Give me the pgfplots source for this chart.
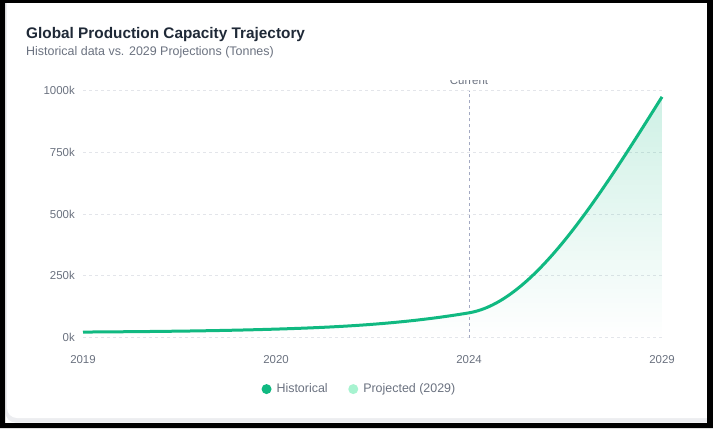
\documentclass[border=0pt]{standalone}
\usepackage{fontspec}
\setmainfont{Liberation Sans}
\usepackage{pgfplots}
\pgfplotsset{compat=1.18}
\usetikzlibrary{fadings}

\definecolor{emerald}{HTML}{10B981}
\definecolor{mint}{HTML}{A7F3D0}
\definecolor{titlecol}{HTML}{1F2937}
\definecolor{subcol}{HTML}{6B7280}
\definecolor{gridcol}{HTML}{E3E5EA}
\definecolor{refcol}{HTML}{A3A9C2}
\definecolor{cardedge}{HTML}{ECEDF0}

% monotone-x cubic plot handler (same curve as the web chart draws)
\makeatletter
\newcount\mono@n
\newcount\mono@i
\newcount\mono@j
\newcount\mono@k
\def\mono@X#1{\csname mono@x\number#1\endcsname}
\def\mono@Y#1{\csname mono@y\number#1\endcsname}
\def\mono@S#1{\csname mono@s\number#1\endcsname}
\def\mono@T#1{\csname mono@t\number#1\endcsname}
\def\pgfplothandlermonotone{%
  \def\pgf@plotstreamstart{%
    \global\mono@n=0\relax
    \global\let\pgf@plotstreampoint=\mono@collect
    \global\let\pgf@plotstreamspecial=\pgfutil@gobble
    \global\let\pgf@plotstreamend=\mono@finish
  }%
}
\def\mono@collect#1{%
  \pgf@process{#1}%
  \global\advance\mono@n by 1\relax
  \expandafter\xdef\csname mono@x\the\mono@n\endcsname{\pgf@sys@tonumber\pgf@x}%
  \expandafter\xdef\csname mono@y\the\mono@n\endcsname{\pgf@sys@tonumber\pgf@y}%
}
\def\mono@finish{%
  \pgf@plot@first@action{\pgfqpoint{\mono@X{1}pt}{\mono@Y{1}pt}}%
  \ifnum\mono@n>2 \mono@curve\else\ifnum\mono@n=2 \mono@line\fi\fi
}
\def\mono@line{\pgfpathlineto{\pgfqpoint{\mono@X{2}pt}{\mono@Y{2}pt}}}
\def\mono@secant{%
  \mono@j=\mono@i \advance\mono@j by 1\relax
  \pgfmathparse{((\mono@Y{\mono@j})-(\mono@Y{\mono@i}))/((\mono@X{\mono@j})-(\mono@X{\mono@i}))}%
  \expandafter\let\csname mono@s\the\mono@i\endcsname\pgfmathresult
  \mono@i=\mono@j
  \ifnum\mono@i<\mono@n \expandafter\mono@secant\fi
}
\def\mono@tangent{%
  \mono@j=\mono@i \advance\mono@j by -1\relax
  \mono@k=\mono@i \advance\mono@k by 1\relax
  \pgfmathsetmacro\mono@hA{(\mono@X{\mono@i})-(\mono@X{\mono@j})}%
  \pgfmathsetmacro\mono@hB{(\mono@X{\mono@k})-(\mono@X{\mono@i})}%
  \edef\mono@sA{\mono@S{\mono@j}}%
  \edef\mono@sB{\mono@S{\mono@i}}%
  \pgfmathsetmacro\mono@p{((\mono@sA)*(\mono@hB)+(\mono@sB)*(\mono@hA))/((\mono@hA)+(\mono@hB))}%
  \pgfmathparse{(sign(\mono@sA)+sign(\mono@sB))*min(abs(\mono@sA),abs(\mono@sB),0.5*abs(\mono@p))}%
  \expandafter\let\csname mono@t\the\mono@i\endcsname\pgfmathresult
  \advance\mono@i by 1\relax
  \ifnum\mono@i<\mono@n \expandafter\mono@tangent\fi
}
\def\mono@segment{%
  \mono@j=\mono@i \advance\mono@j by 1\relax
  \pgfmathsetmacro\mono@dx{((\mono@X{\mono@j})-(\mono@X{\mono@i}))/3}%
  \pgfmathsetmacro\mono@ax{(\mono@X{\mono@i})+(\mono@dx)}%
  \pgfmathsetmacro\mono@ay{(\mono@Y{\mono@i})+(\mono@dx)*(\mono@T{\mono@i})}%
  \pgfmathsetmacro\mono@bx{(\mono@X{\mono@j})-(\mono@dx)}%
  \pgfmathsetmacro\mono@by{(\mono@Y{\mono@j})-(\mono@dx)*(\mono@T{\mono@j})}%
  \pgfpathcurveto{\pgfqpoint{\mono@ax pt}{\mono@ay pt}}%
    {\pgfqpoint{\mono@bx pt}{\mono@by pt}}%
    {\pgfqpoint{\mono@X{\mono@j}pt}{\mono@Y{\mono@j}pt}}%
  \mono@i=\mono@j
  \ifnum\mono@i<\mono@n \expandafter\mono@segment\fi
}
\def\mono@curve{%
  \mono@i=1 \mono@secant
  \mono@i=2 \mono@tangent
  \pgfmathparse{(3*(\mono@S{1})-(\mono@T{2}))/2}%
  \expandafter\let\csname mono@t1\endcsname\pgfmathresult
  \mono@j=\mono@n \advance\mono@j by -1\relax
  \pgfmathparse{(3*(\mono@S{\mono@j})-(\mono@T{\mono@j}))/2}%
  \expandafter\let\csname mono@t\the\mono@n\endcsname\pgfmathresult
  \mono@i=1 \mono@segment
}
\tikzset{monotone/.code={\let\tikz@plot@handler=\pgfplothandlermonotone}}
\makeatother

\begin{document}
\begin{tikzpicture}[x=1bp,y=1bp]
\useasboundingbox (0,0) rectangle (713,428);
% card
\begin{scope}
  \clip (5,5) rectangle (707,425);
  \fill[cardedge, rounded corners=10bp] (5.5,5.5) rectangle (740,460);
  \fill[white, rounded corners=10bp] (7,10) rectangle (740,460);
\end{scope}

\node[anchor=base west, inner sep=0, text=titlecol,
      font=\bfseries\fontsize{15.4}{18}\selectfont] at (26,389.7)
      {Global Production Capacity Trajectory};
\node[anchor=base west, inner sep=0, text=subcol,
      font=\fontsize{12.5}{15}\selectfont] at (26,373)
      {Historical data vs. 2029 Projections (Tonnes)};

\begin{axis}[
    at={(83bp,90.5bp)}, anchor=south west,
    scale only axis, width=579bp, height=246.8bp,
    xmin=0, xmax=3, ymin=0, ymax=1000000,
    clip=false,
    axis line style={draw=none},
    major tick style={draw=none},
    xtick={0,1,2,3},
    xticklabels={2019,2020,2024,2029},
    ytick={0,250000,500000,750000,1000000},
    yticklabels={0k,250k,500k,750k,1000k},
    scaled y ticks=false,
    ymajorgrids,
    major grid style={gridcol, dash pattern=on 3bp off 3bp, line width=0.8bp},
    tick label style={font=\fontsize{11.5}{13}\selectfont, text=subcol},
    yticklabel style={xshift=-4.7bp},
    xticklabel style={yshift=-14.5bp},
    legend columns=2,
    legend style={
        at={(0.477,-0.209)}, anchor=center,
        draw=none, fill=none,
        font=\fontsize{12.5}{14}\selectfont, text=subcol,
        nodes={inner sep=1.5bp},
        /tikz/every odd column/.append style={column sep=3.5bp},
        /tikz/every even column/.append style={column sep=19bp}
    },
]

% projected area (gradient under the curve)
\addplot[draw=none, fill=emerald, fill opacity=0.2, path fading=south, monotone,
         forget plot]
    coordinates {(0,22000) (1,34000) (2,100000) (3,975000)} \closedcycle;

% "current" marker
\addplot[refcol, line width=1bp, dash pattern=on 3bp off 3bp, forget plot]
    coordinates {(2,0) (2,1000000)};

% production line
\addplot[emerald, line width=3bp, line join=round, monotone,
         legend image code/.code={\fill[emerald, draw=none] (0bp,0bp) circle (5bp);}]
    coordinates {(0,22000) (1,34000) (2,100000) (3,975000)};
\addlegendentry{Historical}
\addlegendimage{legend image code/.code={\fill[mint, draw=none] (0bp,0bp) circle (5bp);}}
\addlegendentry{Projected (2029)}

\begin{scope}
  \clip (rel axis cs:0,1.0405) rectangle (rel axis cs:1,0.95);
  \node[anchor=base, inner sep=0, text=subcol, font=\fontsize{11.5}{13}\selectfont]
      at (axis cs:2,1000000) [yshift=5.7bp] {Current};
\end{scope}
\end{axis}

% black frame round the screenshot
\fill[black, even odd rule] (0,0) rectangle (713,428) (5,5) rectangle (707,425);
\end{tikzpicture}
\end{document}
